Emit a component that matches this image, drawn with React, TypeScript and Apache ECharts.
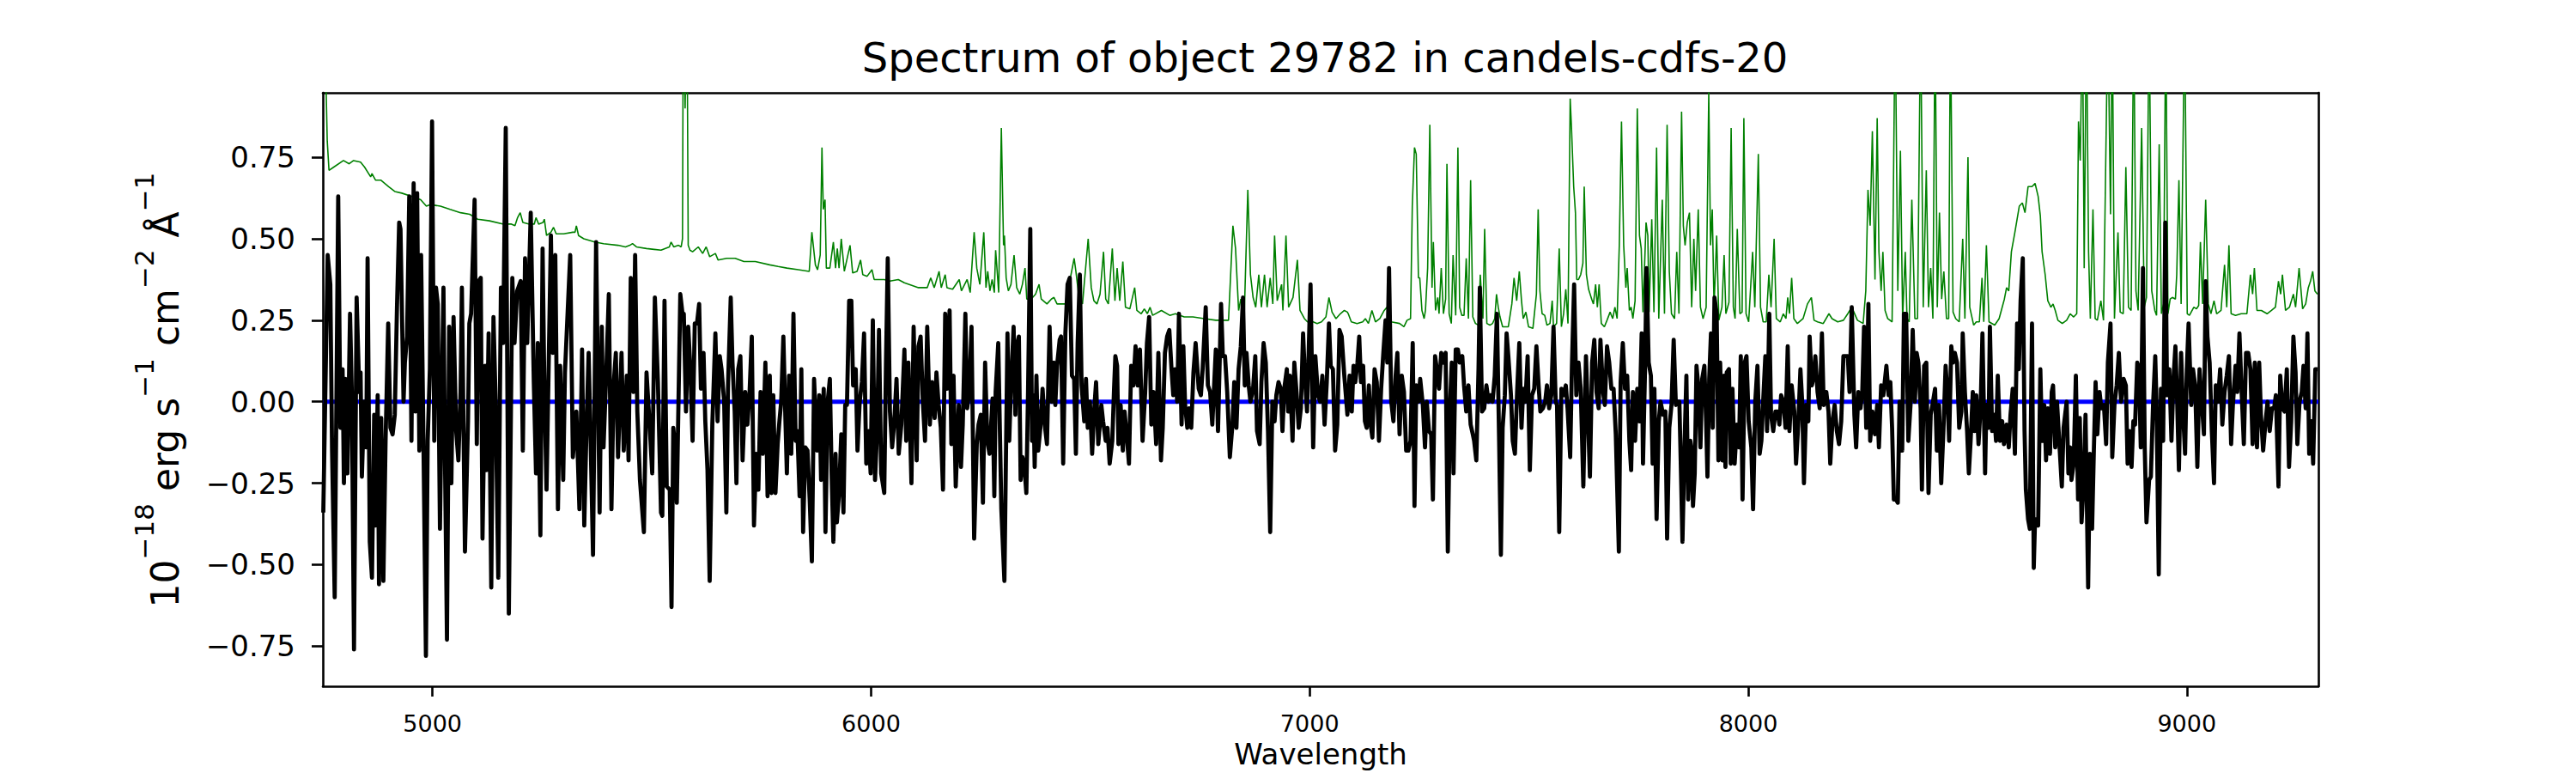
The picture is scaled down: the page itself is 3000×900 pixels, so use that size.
import React, { useEffect, useRef } from "react";
import * as echarts from "echarts";

// ---------- data ----------
const titleText = "Spectrum of object 29782 in candels-cdfs-20";
const xLabelText = "Wavelength";
const xTicks = [5000, 6000, 7000, 8000, 9000];
const yTicks = [-0.75, -0.5, -0.25, 0, 0.25, 0.5, 0.75];
const xRange = [4750, 9300];
const yRange = [-0.873, 0.948];

// observed flux (black), [wavelength, flux]
const observedA: [number, number][] = [[4751,-0.34],[4761,0.45],[4767,0.36],[4771,-0.15],[4777,-0.60],[4785,0.63],[4790,-0.08],[4795,0.10],[4798,-0.25],[4801,0.07],[4806,-0.22],[4812,0.27],[4816,0.03],[4821,-0.76],[4827,0.32],[4833,0.03],[4836,0.09],[4839,-0.23],[4844,0.00],[4849,-0.14],[4852,0.44],[4857,-0.43],[4862,-0.54],[4867,-0.04],[4870,-0.38],[4875,0.02],[4878,-0.56],[4883,-0.05],[4888,-0.55],[4893,-0.12],[4899,0.24],[4904,-0.08],[4909,-0.10],[4914,-0.04],[4919,0.29],[4924,0.55],[4927,0.53],[4934,0.00],[4937,0.12],[4942,0.20],[4947,0.63],[4952,-0.12],[4957,0.67],[4961,-0.03],[4965,0.64],[4970,-0.15],[4974,0.45],[4979,-0.08],[4985,-0.78],[4989,-0.12],[4994,0.10],[4999,0.86],[5004,-0.12],[5008,0.35],[5012,0.30],[5017,-0.39],[5020,-0.08],[5025,0.35],[5028,-0.12],[5033,-0.73],[5038,0.23],[5043,-0.25],[5048,0.26],[5054,-0.09],[5059,-0.18],[5064,0.03],[5067,0.35],[5074,-0.46],[5081,-0.06],[5084,0.24],[5088,0.27],[5096,0.62],[5101,-0.13],[5105,0.37],[5110,0.38],[5114,-0.42],[5120,0.11],[5123,-0.21],[5128,0.21],[5134,-0.57],[5139,0.26],[5144,0.00],[5150,-0.54],[5156,0.35],[5161,0.18],[5167,0.84],[5174,-0.65],[5182,0.38],[5187,0.18],[5193,0.34],[5201,0.37],[5206,-0.15],[5211,0.44],[5216,0.18],[5224,0.58],[5231,0.06],[5236,-0.22],[5240,0.18],[5246,-0.41],[5251,0.47],[5255,0.05],[5260,-0.27],[5270,0.51],[5274,0.15],[5280,0.45],[5286,-0.33],[5291,0.11],[5298,-0.24],[5302,0.09],[5314,0.45],[5320,-0.17],[5328,-0.03],[5335,-0.33],[5341,0.16],[5346,-0.38],[5351,-0.09],[5356,0.15],[5361,-0.15],[5366,-0.47],[5373,0.49],[5381,-0.34],[5386,0.23],[5390,-0.14],[5397,0.12],[5402,0.33],[5408,-0.33],[5413,0.05],[5418,0.15],[5423,-0.17],[5431,0.15],[5436,-0.15],[5443,0.08],[5447,-0.18],[5452,0.38],[5458,0.03],[5462,0.45],[5467,-0.03],[5473,-0.24],[5482,-0.40],[5488,0.09],[5495,-0.07],[5501,-0.22],[5507,0.32],[5514,0.06],[5521,-0.34]];
const observedB: [number, number][] = [[5524,-0.35],[5529,0.31],[5534,-0.26],[5541,-0.27],[5545,-0.63],[5549,-0.08],[5554,-0.15],[5557,-0.31],[5565,0.33],[5570,0.27],[5573,0.27],[5578,-0.03],[5583,0.23],[5588,0.10],[5593,-0.12],[5598,0.24],[5603,0.24],[5608,0.30],[5612,0.04],[5618,0.15],[5622,-0.06],[5627,-0.21],[5632,-0.55],[5638,-0.07],[5645,0.21],[5650,-0.06],[5655,0.14],[5659,0.10],[5665,0.00],[5670,-0.34],[5674,0.06],[5680,0.32],[5684,0.12],[5689,-0.03],[5693,-0.25],[5697,0.10],[5702,0.14],[5707,-0.18],[5713,0.03],[5718,-0.07],[5723,0.03],[5728,0.20],[5733,-0.38],[5738,-0.16],[5743,-0.27],[5748,0.03],[5753,-0.16],[5759,0.12],[5764,-0.29],[5769,0.08],[5773,-0.28],[5777,0.02],[5782,-0.28],[5787,-0.13],[5791,-0.06],[5795,0.00],[5800,0.20],[5805,-0.07],[5808,-0.22],[5813,0.08],[5818,-0.16],[5823,0.27],[5828,-0.12],[5832,-0.09],[5837,-0.29],[5841,0.10],[5845,-0.40],[5850,-0.14],[5855,-0.15],[5860,-0.30],[5865,-0.49],[5870,0.07],[5877,-0.15],[5882,0.02],[5886,-0.24],[5892,0.04],[5896,-0.40],[5901,0.00],[5906,0.07],[5910,-0.22],[5914,-0.43],[5919,-0.16],[5922,-0.37],[5927,-0.28],[5932,-0.10],[5937,-0.34],[5941,-0.01],[5945,-0.01],[5950,0.31],[5955,0.31],[5959,0.05],[5965,0.10],[5969,-0.15],[5974,0.00],[5979,0.06],[5984,0.21],[5989,-0.19],[5994,-0.09],[5999,-0.22],[6004,0.25],[6009,-0.24],[6014,-0.08],[6018,0.22],[6023,-0.22],[6030,-0.28],[6034,0.12],[6038,0.44],[6043,-0.03],[6048,-0.14],[6053,-0.06],[6058,0.07],[6063,-0.16],[6069,-0.07],[6076,0.16],[6080,-0.12],[6085,0.12],[6092,-0.25],[6097,0.23],[6104,-0.18],[6108,0.17],[6113,0.20],[6118,0.00],[6123,-0.12],[6128,0.23],[6134,-0.07],[6139,0.06],[6145,-0.05],[6149,0.09],[6154,-0.01],[6159,-0.08],[6164,-0.27],[6169,0.27],[6173,0.04],[6179,0.28],[6183,-0.13],[6188,0.08],[6193,-0.26],[6200,-0.01],[6205,-0.20],[6209,-0.07],[6215,0.27],[6219,-0.02],[6224,0.03],[6229,0.23],[6235,-0.42],[6241,-0.13],[6245,-0.07],[6250,-0.04],[6255,-0.31],[6260,0.12],[6265,-0.12],[6270,-0.16],[6277,0.01],[6281,-0.29],[6284,0.03],[6290,0.18],[6297,-0.33],[6304,-0.55]];
const observedC: [number, number][] = [[6311,0.21],[6315,-0.12],[6319,0.05],[6325,0.23],[6329,-0.04],[6332,0.17],[6337,0.20],[6341,-0.24],[6345,-0.17],[6349,-0.19],[6354,-0.28],[6358,0.04],[6363,0.53],[6367,-0.12],[6370,0.02],[6373,-0.20],[6377,0.08],[6381,-0.15],[6386,-0.08],[6391,0.04],[6396,-0.07],[6401,-0.13],[6407,0.23],[6412,0.00],[6417,0.12],[6420,-0.01],[6424,0.11],[6430,0.19],[6433,0.20],[6438,-0.19],[6443,0.21],[6448,0.36],[6453,0.38],[6458,0.08],[6463,0.07],[6467,-0.16],[6471,0.18],[6476,0.39],[6480,0.05],[6486,-0.06],[6490,0.07],[6494,-0.08],[6499,0.00],[6504,-0.16],[6509,-0.02],[6513,0.06],[6518,-0.13],[6525,-0.01],[6529,-0.06],[6535,-0.12],[6539,-0.08],[6544,-0.19],[6550,-0.12],[6554,0.04],[6557,0.14],[6561,0.11],[6564,-0.13],[6569,-0.01],[6574,-0.15],[6578,-0.03],[6584,-0.12],[6588,-0.19],[6593,0.11],[6598,0.05],[6603,0.17],[6608,0.05],[6613,0.16],[6619,-0.12],[6625,0.03],[6629,0.18],[6634,0.26],[6639,-0.07],[6644,0.03],[6650,-0.13],[6655,0.15],[6661,-0.18],[6665,-0.08],[6670,0.15],[6675,0.20],[6680,0.22],[6685,0.10],[6689,0.02],[6693,0.10],[6698,0.00],[6702,0.27],[6708,-0.07],[6712,0.17],[6716,-0.01],[6721,-0.08],[6725,-0.02],[6730,-0.08],[6735,0.09],[6740,0.18],[6747,0.04],[6752,0.02],[6756,0.10],[6763,0.29],[6768,0.05],[6773,0.03],[6778,-0.07],[6786,0.16],[6791,-0.09],[6798,0.30],[6802,0.14],[6807,0.14],[6812,0.03],[6818,-0.17],[6824,-0.07],[6828,0.06],[6833,-0.08],[6838,0.10],[6843,0.17],[6848,0.32],[6852,0.05],[6856,0.15],[6861,0.05],[6865,0.00],[6871,0.04],[6876,0.14],[6880,-0.09],[6886,-0.13],[6890,0.06],[6895,0.18],[6900,0.12],[6905,-0.09],[6910,-0.40],[6915,0.00],[6920,-0.06],[6924,0.02],[6929,0.06],[6934,0.04],[6938,-0.09],[6942,0.04],[6948,0.10],[6951,-0.03],[6955,0.08],[6961,-0.12],[6965,0.12],[6970,0.03],[6975,-0.08],[6980,-0.02],[6985,0.21],[6989,0.08],[6994,-0.03],[7002,0.36],[7008,-0.14],[7013,0.14],[7019,0.02],[7024,0.00],[7029,0.08],[7034,-0.07],[7039,0.06],[7044,0.24],[7048,0.11],[7053,0.10],[7058,-0.15],[7063,-0.07],[7068,0.22],[7073,0.20],[7079,0.08],[7086,-0.04]];
const observedD: [number, number][] = [[7091,0.08],[7096,-0.03],[7100,0.11],[7104,0.06],[7109,0.12],[7113,0.20],[7117,0.06],[7122,0.11],[7126,-0.06],[7130,-0.08],[7135,0.05],[7139,-0.07],[7143,-0.11],[7148,0.10],[7153,0.06],[7158,-0.12],[7163,0.04],[7168,0.15],[7173,0.25],[7177,0.12],[7181,0.41],[7186,0.00],[7191,-0.06],[7196,0.08],[7200,0.15],[7205,-0.10],[7210,0.08],[7215,0.03],[7220,-0.15],[7225,-0.15],[7230,-0.12],[7235,0.18],[7239,-0.32],[7243,0.05],[7248,0.00],[7252,0.07],[7258,-0.01],[7263,-0.14],[7267,0.00],[7272,-0.09],[7277,-0.10],[7281,-0.30],[7286,0.14],[7290,0.10],[7295,0.04],[7300,0.15],[7305,0.12],[7310,0.15],[7315,-0.46],[7320,-0.01],[7324,0.12],[7328,-0.22],[7333,0.16],[7338,0.16],[7342,0.12],[7348,0.14],[7352,0.05],[7357,-0.03],[7362,0.05],[7367,-0.07],[7372,-0.10],[7375,-0.12],[7380,-0.18],[7385,0.10],[7388,0.35],[7393,-0.03],[7398,-0.02],[7403,0.05],[7408,0.00],[7412,0.02],[7417,0.00],[7422,0.08],[7427,0.27],[7432,-0.12],[7436,-0.47],[7440,-0.08],[7445,0.02],[7449,0.21],[7453,0.14],[7459,0.02],[7463,-0.12],[7468,-0.16],[7473,0.03],[7478,0.18],[7483,-0.08],[7487,0.04],[7492,0.00],[7497,0.14],[7502,-0.21],[7507,0.02],[7512,0.04],[7517,0.17],[7522,0.05],[7526,-0.03],[7532,-0.02],[7537,0.00],[7541,0.05],[7546,-0.02],[7551,0.02],[7556,0.23],[7561,0.00],[7564,-0.01],[7569,-0.40],[7574,0.04],[7579,0.02],[7584,0.05],[7588,-0.02],[7594,-0.17],[7598,0.11],[7603,0.36],[7608,0.02],[7613,0.12],[7618,0.04],[7624,-0.26],[7630,0.14],[7635,-0.06],[7639,-0.23],[7644,0.12],[7649,0.19],[7654,0.03],[7659,-0.02],[7663,0.19],[7669,0.03],[7673,-0.01],[7678,0.17],[7683,0.12],[7688,0.04],[7693,0.04],[7698,-0.10],[7705,-0.46],[7709,0.06],[7714,0.18],[7719,0.04],[7724,0.08],[7729,-0.12],[7733,-0.21],[7737,0.03],[7742,-0.12],[7747,0.04],[7752,-0.06],[7757,0.21],[7760,-0.19],[7765,0.12],[7768,0.41],[7773,0.12],[7778,0.08],[7782,-0.19],[7786,0.04],[7791,-0.36],[7796,-0.06],[7800,0.00],[7806,-0.04],[7811,-0.03],[7815,-0.42],[7820,-0.08],[7825,-0.01],[7830,0.19],[7835,-0.01],[7840,0.00],[7843,0.00],[7847,-0.24],[7850,-0.43],[7855,-0.12],[7859,0.08],[7863,-0.30],[7868,-0.12]];
const observedE: [number, number][] = [[7871,-0.15],[7874,-0.32],[7878,-0.22],[7882,0.11],[7886,0.05],[7891,-0.14],[7895,0.07],[7900,0.11],[7904,-0.06],[7907,-0.23],[7911,0.07],[7915,0.21],[7919,-0.08],[7923,0.32],[7928,0.27],[7932,-0.18],[7936,0.12],[7941,-0.18],[7945,0.08],[7948,-0.20],[7951,0.09],[7956,0.10],[7960,-0.19],[7964,0.04],[7969,-0.19],[7974,-0.07],[7979,-0.14],[7983,0.14],[7987,-0.30],[7992,0.12],[7996,0.14],[8001,-0.06],[8007,-0.14],[8011,-0.33],[8016,0.00],[8021,0.11],[8026,-0.16],[8030,-0.12],[8034,0.00],[8039,0.14],[8043,-0.09],[8048,0.27],[8052,-0.04],[8057,-0.09],[8062,-0.03],[8067,-0.03],[8071,-0.07],[8075,0.02],[8080,0.00],[8085,-0.08],[8090,0.17],[8094,-0.09],[8099,0.05],[8105,-0.03],[8109,-0.19],[8114,-0.07],[8119,0.10],[8123,0.00],[8127,-0.25],[8132,-0.01],[8137,-0.06],[8140,0.20],[8145,0.05],[8150,0.08],[8153,0.14],[8158,0.03],[8163,-0.02],[8168,0.21],[8172,-0.01],[8178,0.03],[8183,-0.03],[8187,-0.19],[8192,-0.06],[8197,-0.01],[8202,-0.09],[8207,-0.13],[8212,-0.06],[8217,0.14],[8221,0.14],[8227,0.14],[8231,0.03],[8236,0.29],[8242,-0.04],[8246,-0.14],[8251,0.03],[8256,-0.02],[8260,0.03],[8264,0.23],[8269,-0.08],[8274,0.30],[8278,-0.12],[8283,-0.03],[8289,-0.10],[8294,-0.01],[8298,-0.14],[8303,0.05],[8308,0.02],[8315,0.11],[8320,0.02],[8324,0.06],[8328,-0.08],[8332,-0.30],[8337,-0.30],[8341,-0.31],[8345,0.00],[8351,-0.15],[8355,0.27],[8360,0.27],[8365,-0.12],[8370,-0.01],[8375,0.22],[8380,0.00],[8384,0.15],[8388,0.12],[8393,-0.02],[8396,-0.27],[8401,0.11],[8406,0.12],[8411,-0.28],[8416,-0.04],[8420,-0.01],[8426,0.04],[8430,-0.15],[8435,-0.01],[8440,-0.25],[8445,-0.09],[8450,0.11],[8454,0.03],[8458,-0.12],[8463,0.17],[8467,0.12],[8471,0.15],[8476,0.12],[8481,-0.08],[8486,-0.03],[8489,0.21],[8494,0.03],[8499,-0.09],[8503,-0.22],[8507,-0.12],[8512,0.03],[8516,-0.09],[8520,0.02],[8525,-0.13],[8530,-0.01],[8534,0.21],[8540,-0.22],[8543,-0.01],[8548,-0.08],[8551,0.23],[8556,-0.09],[8561,-0.04],[8565,-0.12],[8569,0.08],[8574,-0.12],[8579,-0.06],[8583,-0.13],[8589,-0.07],[8594,-0.14],[8598,-0.04],[8603,0.04],[8608,-0.16],[8613,0.24],[8617,0.10],[8621,0.31],[8626,0.44],[8630,-0.09],[8633,-0.27],[8638,-0.36],[8642,-0.39],[8647,0.24],[8651,-0.51],[8654,-0.36]];
const observedF: [number, number][] = [[8661,-0.38],[8666,0.10],[8670,-0.12],[8675,-0.01],[8679,-0.18],[8683,-0.02],[8688,-0.16],[8692,0.03],[8695,0.05],[8700,-0.14],[8704,0.00],[8709,-0.12],[8715,-0.26],[8719,-0.08],[8726,0.00],[8730,-0.22],[8734,-0.14],[8737,-0.24],[8742,-0.19],[8747,0.08],[8752,-0.30],[8756,-0.05],[8760,-0.37],[8765,-0.24],[8769,-0.04],[8775,-0.57],[8779,-0.16],[8784,-0.39],[8788,-0.15],[8792,0.06],[8796,-0.10],[8801,0.03],[8805,-0.02],[8811,-0.01],[8816,-0.13],[8820,0.12],[8826,0.24],[8830,-0.17],[8835,-0.01],[8840,0.05],[8845,0.15],[8850,0.00],[8856,0.07],[8861,0.05],[8865,-0.19],[8869,-0.09],[8874,-0.20],[8878,-0.06],[8882,-0.07],[8887,0.12],[8891,0.10],[8895,-0.14],[8900,0.41],[8904,-0.14],[8908,-0.37],[8914,-0.24],[8918,-0.23],[8923,-0.01],[8928,0.14],[8931,-0.01],[8936,-0.53],[8941,0.04],[8946,-0.12],[8951,0.55],[8955,0.02],[8960,0.10],[8965,-0.12],[8970,0.08],[8974,0.17],[8978,0.00],[8982,-0.21],[8987,0.15],[8991,-0.02],[8996,-0.16],[9000,0.10],[9004,0.24],[9010,-0.01],[9014,0.10],[9019,0.05],[9024,-0.20],[9029,0.10],[9034,0.00],[9039,-0.10],[9043,0.37],[9047,0.20],[9052,0.12],[9057,-0.09],[9062,-0.25],[9066,0.05],[9071,0.00],[9076,0.10],[9081,-0.07],[9086,0.03],[9091,0.08],[9096,0.14],[9101,-0.13],[9105,-0.01],[9111,0.11],[9115,0.03],[9120,0.21],[9125,0.03],[9130,-0.13],[9135,0.15],[9140,0.15],[9145,0.10],[9150,-0.13],[9155,0.12],[9160,-0.14],[9165,0.12],[9169,-0.04],[9174,-0.15],[9179,-0.07],[9184,0.00],[9189,-0.09],[9194,-0.02],[9199,-0.02],[9203,0.02],[9209,-0.26],[9213,0.08],[9218,-0.02],[9223,-0.03],[9228,0.10],[9233,-0.20],[9238,-0.06],[9243,0.20],[9248,0.09],[9252,-0.13],[9257,0.00],[9262,0.03],[9266,0.11],[9271,-0.02],[9275,0.21],[9279,-0.16],[9284,-0.06],[9288,-0.19],[9293,0.10],[9298,0.10]];

// sky / noise spectrum (green), [wavelength, flux]
const skyA: [number, number][] = [[4751,1.3],[4756,1.05],[4760,0.8],[4764,0.71],[4775,0.72],[4797,0.74],[4810,0.73],[4820,0.74],[4836,0.735],[4845,0.72],[4859,0.69],[4862,0.70],[4870,0.68],[4882,0.68],[4900,0.66],[4914,0.645],[4930,0.64],[4953,0.63],[4973,0.62],[4986,0.60],[4995,0.605],[5018,0.60],[5040,0.59],[5064,0.58],[5085,0.575],[5103,0.56],[5130,0.555],[5162,0.545],[5180,0.545],[5188,0.54],[5194,0.565],[5200,0.58],[5206,0.55],[5221,0.545],[5232,0.545],[5236,0.565],[5242,0.545],[5252,0.55],[5255,0.56],[5260,0.51],[5270,0.52],[5276,0.535],[5282,0.515],[5299,0.515],[5320,0.52],[5325,0.52],[5328,0.54],[5333,0.51],[5345,0.50],[5370,0.49],[5390,0.485],[5423,0.48],[5440,0.475],[5450,0.48],[5456,0.485],[5465,0.475],[5488,0.47],[5521,0.465]];
const skyB: [number, number][] = [[5540,0.475],[5544,0.49],[5550,0.475],[5561,0.48],[5567,0.475],[5570,0.50],[5572,1.3],[5576,0.9],[5580,1.3],[5583,0.48],[5587,0.465],[5593,0.46],[5606,0.475],[5616,0.455],[5624,0.475],[5632,0.445],[5645,0.455],[5651,0.435],[5671,0.44],[5690,0.44],[5710,0.43],[5736,0.43],[5769,0.42],[5788,0.415],[5808,0.41],[5834,0.405],[5859,0.40],[5865,0.52],[5873,0.42],[5878,0.405],[5884,0.45],[5888,0.78],[5891,0.59],[5895,0.62],[5898,0.41],[5906,0.41],[5914,0.49],[5919,0.41],[5923,0.47],[5927,0.41],[5932,0.50],[5939,0.40],[5952,0.48],[5958,0.395],[5968,0.40],[5976,0.435],[5981,0.39],[5991,0.385],[6002,0.405],[6007,0.375],[6030,0.375],[6043,0.37],[6062,0.375],[6076,0.365],[6108,0.35],[6128,0.35],[6136,0.38],[6144,0.35],[6155,0.40],[6160,0.35],[6169,0.39],[6173,0.35],[6186,0.345],[6201,0.375],[6206,0.34],[6219,0.375],[6226,0.335],[6235,0.52],[6241,0.41],[6248,0.36],[6257,0.52],[6262,0.35],[6266,0.40],[6271,0.34],[6276,0.375],[6281,0.335],[6284,0.465],[6291,0.335],[6297,0.84],[6302,0.48],[6304,0.51]];
const skyC: [number, number][] = [[6308,0.38],[6313,0.34],[6319,0.36],[6326,0.45],[6332,0.35],[6339,0.33],[6345,0.36],[6351,0.41],[6355,0.315],[6365,0.315],[6375,0.33],[6383,0.36],[6388,0.315],[6401,0.30],[6411,0.315],[6417,0.32],[6424,0.30],[6433,0.30],[6443,0.30],[6463,0.44],[6467,0.40],[6474,0.32],[6482,0.30],[6495,0.50],[6502,0.35],[6508,0.31],[6515,0.30],[6522,0.33],[6530,0.46],[6535,0.315],[6541,0.30],[6550,0.47],[6556,0.31],[6561,0.41],[6567,0.31],[6574,0.43],[6580,0.29],[6590,0.285],[6601,0.35],[6606,0.28],[6616,0.27],[6623,0.285],[6630,0.27],[6636,0.29],[6642,0.265],[6662,0.28],[6681,0.265],[6694,0.27],[6714,0.26],[6734,0.26],[6760,0.255],[6786,0.25],[6799,0.25],[6815,0.25],[6825,0.54],[6831,0.47],[6838,0.28],[6843,0.315],[6851,0.27],[6859,0.65],[6865,0.39],[6871,0.32],[6877,0.29],[6884,0.39],[6890,0.29],[6897,0.39],[6903,0.29],[6910,0.38],[6916,0.30],[6920,0.51],[6926,0.31],[6936,0.36],[6939,0.28],[6946,0.51],[6952,0.29],[6962,0.32],[6972,0.435],[6978,0.28],[6988,0.255],[6995,0.245],[7008,0.245],[7017,0.24],[7027,0.245],[7037,0.26],[7044,0.32],[7051,0.275],[7060,0.255],[7070,0.27],[7079,0.28],[7086,0.275]];
const skyD: [number, number][] = [[7088,0.27],[7095,0.245],[7108,0.24],[7121,0.245],[7127,0.255],[7134,0.24],[7142,0.28],[7150,0.245],[7160,0.255],[7170,0.28],[7176,0.29],[7186,0.245],[7205,0.24],[7215,0.23],[7222,0.25],[7230,0.255],[7234,0.60],[7239,0.78],[7243,0.76],[7248,0.38],[7251,0.38],[7256,0.28],[7261,0.255],[7264,0.28],[7269,0.41],[7274,0.85],[7279,0.35],[7282,0.49],[7287,0.28],[7292,0.32],[7295,0.27],[7300,0.41],[7305,0.27],[7310,0.315],[7313,0.73],[7318,0.27],[7323,0.24],[7327,0.45],[7333,0.265],[7338,0.78],[7342,0.29],[7347,0.265],[7352,0.265],[7357,0.44],[7362,0.255],[7367,0.68],[7372,0.26],[7378,0.24],[7385,0.235],[7389,0.39],[7395,0.255],[7399,0.53],[7404,0.24],[7411,0.235],[7417,0.24],[7422,0.255],[7426,0.33],[7430,0.29],[7434,0.26],[7440,0.23],[7453,0.23],[7461,0.30],[7466,0.38],[7472,0.31],[7478,0.40],[7483,0.31],[7487,0.255],[7493,0.275],[7499,0.23],[7509,0.225],[7517,0.33],[7521,0.59],[7525,0.34],[7530,0.27],[7536,0.265],[7541,0.235],[7548,0.24],[7553,0.31],[7556,0.23],[7563,0.24],[7569,0.47],[7574,0.23],[7579,0.27],[7584,0.345],[7589,0.24],[7594,0.93],[7597,0.84],[7602,0.66],[7606,0.58],[7609,0.375],[7613,0.375],[7618,0.39],[7623,0.425],[7626,0.66],[7631,0.39],[7636,0.345],[7643,0.315],[7647,0.30],[7652,0.36],[7656,0.29],[7660,0.36],[7665,0.24],[7672,0.23],[7678,0.25],[7685,0.275],[7691,0.255],[7696,0.29],[7701,0.255],[7706,0.48],[7711,0.86],[7716,0.48],[7721,0.35],[7724,0.41],[7729,0.28],[7733,0.29],[7737,0.255],[7742,0.31],[7747,0.90],[7752,0.51],[7756,0.47],[7760,0.275],[7767,0.55],[7771,0.51],[7774,0.275],[7780,0.56],[7785,0.275],[7791,0.78],[7796,0.255],[7804,0.62],[7809,0.27],[7815,0.85],[7820,0.40],[7825,0.27],[7832,0.255],[7837,0.46],[7842,0.27],[7848,0.89],[7852,0.54],[7856,0.48],[7861,0.55],[7866,0.58],[7871,0.29]];
const skyE: [number, number][] = [[7876,0.50],[7880,0.34],[7886,0.59],[7891,0.29],[7897,0.255],[7904,0.29],[7910,0.95],[7914,0.48],[7918,0.59],[7922,0.29],[7928,0.51],[7933,0.25],[7940,0.29],[7945,0.45],[7949,0.27],[7956,0.305],[7961,0.84],[7966,0.29],[7970,0.255],[7975,0.53],[7981,0.27],[7986,0.275],[7990,0.87],[7995,0.27],[8001,0.245],[8010,0.46],[8015,0.29],[8023,0.76],[8028,0.29],[8034,0.245],[8041,0.245],[8047,0.39],[8052,0.29],[8059,0.50],[8064,0.255],[8073,0.245],[8080,0.27],[8086,0.255],[8090,0.32],[8094,0.27],[8099,0.38],[8104,0.255],[8112,0.24],[8125,0.255],[8135,0.30],[8144,0.32],[8150,0.25],[8158,0.245],[8171,0.24],[8184,0.27],[8191,0.255],[8204,0.245],[8217,0.25],[8227,0.27],[8236,0.29],[8249,0.25],[8262,0.24],[8268,0.34],[8273,0.65],[8278,0.54],[8283,0.83],[8289,0.375],[8294,0.87],[8298,0.46],[8303,0.34],[8307,0.46],[8312,0.28],[8318,0.255],[8328,0.245],[8335,1.2],[8341,0.34],[8347,0.77],[8352,0.255],[8358,0.46],[8362,0.255],[8367,0.245],[8373,0.62],[8380,0.255],[8386,0.255],[8393,1.2],[8399,0.29],[8406,0.71],[8411,0.29],[8416,0.41],[8421,0.255],[8426,1.2],[8431,0.29],[8436,0.58],[8441,0.315],[8446,0.40],[8452,0.255],[8457,0.255],[8461,1.2],[8467,0.275],[8473,0.255],[8481,0.245],[8489,0.50],[8494,0.255],[8501,0.75],[8505,0.29],[8514,0.235],[8520,0.245],[8527,0.245],[8533,0.38],[8537,0.245],[8543,0.48],[8549,0.245],[8562,0.235],[8572,0.255],[8579,0.29],[8584,0.315],[8589,0.35],[8594,0.34],[8600,0.46],[8608,0.52],[8618,0.60],[8625,0.61],[8631,0.58],[8638,0.66],[8647,0.66],[8654,0.67]];
const skyF: [number, number][] = [[8661,0.63],[8666,0.57],[8670,0.46],[8677,0.39],[8683,0.31],[8690,0.29],[8695,0.30],[8700,0.28],[8706,0.25],[8716,0.24],[8726,0.25],[8734,0.27],[8742,0.26],[8749,0.27],[8753,0.86],[8757,0.74],[8762,1.2],[8766,0.41],[8771,1.2],[8776,0.46],[8780,0.255],[8786,0.59],[8791,0.255],[8796,0.25],[8804,0.31],[8810,0.25],[8820,1.2],[8826,0.575],[8830,1.2],[8835,0.255],[8843,0.52],[8848,0.275],[8855,0.27],[8861,0.72],[8867,0.29],[8873,0.28],[8879,1.2],[8884,0.34],[8889,0.28],[8897,0.84],[8903,0.29],[8908,0.32],[8914,1.2],[8920,0.34],[8927,0.28],[8931,0.265],[8937,0.79],[8942,0.27],[8947,0.30],[8952,1.2],[8957,0.27],[8962,0.315],[8967,0.32],[8974,0.315],[8977,0.39],[8982,0.68],[8987,0.30],[8995,1.2],[9001,0.27],[9006,0.265],[9016,0.29],[9022,0.285],[9027,0.295],[9031,0.49],[9036,0.30],[9043,0.62],[9049,0.30],[9055,0.27],[9062,0.31],[9068,0.27],[9078,0.28],[9086,0.42],[9091,0.29],[9096,0.48],[9101,0.27],[9111,0.265],[9124,0.27],[9137,0.27],[9145,0.39],[9150,0.33],[9154,0.41],[9160,0.28],[9170,0.28],[9183,0.27],[9193,0.28],[9202,0.29],[9209,0.37],[9214,0.33],[9218,0.39],[9225,0.28],[9234,0.29],[9243,0.33],[9248,0.29],[9256,0.41],[9264,0.285],[9271,0.30],[9277,0.35],[9282,0.37],[9287,0.40],[9292,0.34],[9298,0.33]];

// model (blue), flat at zero
const modelFlux: [number, number][] = [[4750, 0], [9300, 0]];

const FONT = "DejaVu Sans";

function fmtY(v: number): string {
  const s = Math.abs(v).toFixed(2);
  return v < 0 ? "\u2212" + s : s;
}

export default function App() {
  const ref = useRef<HTMLDivElement>(null);
  useEffect(() => {
    if (!ref.current) return;
    const chart = echarts.init(ref.current, undefined, { renderer: "svg" });
    const observed = [...observedA, ...observedB, ...observedC, ...observedD, ...observedE, ...observedF];
    const sky = [...skyA, ...skyB, ...skyC, ...skyD, ...skyE, ...skyF];
    const frameLine = { show: true, onZero: false, lineStyle: { color: "#000", width: 2.6 } };
    chart.setOption({
      animation: false,
      backgroundColor: "#fff",
      title: {
        text: titleText,
        left: 1538,
        top: 38,
        textAlign: "center",
        textStyle: { fontFamily: FONT, fontSize: 48, fontWeight: "normal", color: "#000" },
      },
      grid: { left: 376, right: 300, top: 108, bottom: 100, containLabel: false },
      xAxis: [
        {
          type: "value",
          min: xRange[0],
          max: xRange[1],
          position: "bottom",
          axisLine: frameLine,
          splitLine: { show: false },
          axisTick: { show: true, inside: false, length: 12, lineStyle: { color: "#000", width: 2.6 }, customValues: xTicks },
          axisLabel: { show: true, margin: 30, fontFamily: FONT, fontSize: 27, color: "#000", customValues: xTicks, formatter: (v: number) => String(v) },
          name: xLabelText,
          nameLocation: "middle",
          nameGap: 62,
          nameTextStyle: { fontFamily: FONT, fontSize: 34, color: "#000" },
        },
        {
          type: "value",
          min: xRange[0],
          max: xRange[1],
          position: "top",
          axisLine: frameLine,
          splitLine: { show: false },
          axisTick: { show: false },
          axisLabel: { show: false },
        },
      ],
      yAxis: [
        {
          type: "value",
          min: yRange[0],
          max: yRange[1],
          position: "left",
          axisLine: frameLine,
          splitLine: { show: false },
          axisTick: { show: true, inside: false, length: 13, lineStyle: { color: "#000", width: 2.6 }, customValues: yTicks },
          axisLabel: { show: true, margin: 32, fontFamily: FONT, fontSize: 34, color: "#000", customValues: yTicks, formatter: (v: number) => fmtY(v) },
        },
        {
          type: "value",
          min: yRange[0],
          max: yRange[1],
          position: "right",
          axisLine: frameLine,
          splitLine: { show: false },
          axisTick: { show: false },
          axisLabel: { show: false },
        },
      ],
      graphic: [
        {
          type: "text",
          x: 183,
          y: 454,
          rotation: Math.PI / 2,
          style: {
            text: "{b|10}{s|\u221218}{b| erg s}{s|\u22121}{b| cm}{s|\u22122}{b| \u00c5}{s|\u22121}",
            align: "center",
            verticalAlign: "middle",
            fill: "#000",
            rich: {
              b: { fontFamily: FONT, fontSize: 44, lineHeight: 62, verticalAlign: "bottom", fill: "#000" },
              s: { fontFamily: FONT, fontSize: 31, lineHeight: 36, verticalAlign: "top", fill: "#000" },
            },
          },
        },
      ],
      series: [
        {
          name: "sky",
          type: "line",
          data: sky,
          showSymbol: false,
          symbol: "none",
          clip: true,
          z: 1,
          lineStyle: { color: "#008000", width: 1.6 },
          emphasis: { disabled: true },
        },
        {
          name: "model",
          type: "line",
          data: modelFlux,
          showSymbol: false,
          symbol: "none",
          clip: true,
          z: 2,
          lineStyle: { color: "#0000ff", width: 4.8 },
          emphasis: { disabled: true },
        },
        {
          name: "observed",
          type: "line",
          data: observed,
          showSymbol: false,
          symbol: "none",
          clip: true,
          z: 3,
          lineStyle: { color: "#000000", width: 4.8, join: "round" },
          emphasis: { disabled: true },
        },
      ],
    });
    return () => chart.dispose();
  }, []);
  return <div ref={ref} style={{ position: "fixed", left: 0, top: 0, width: 3000, height: 900 }} />;
}
